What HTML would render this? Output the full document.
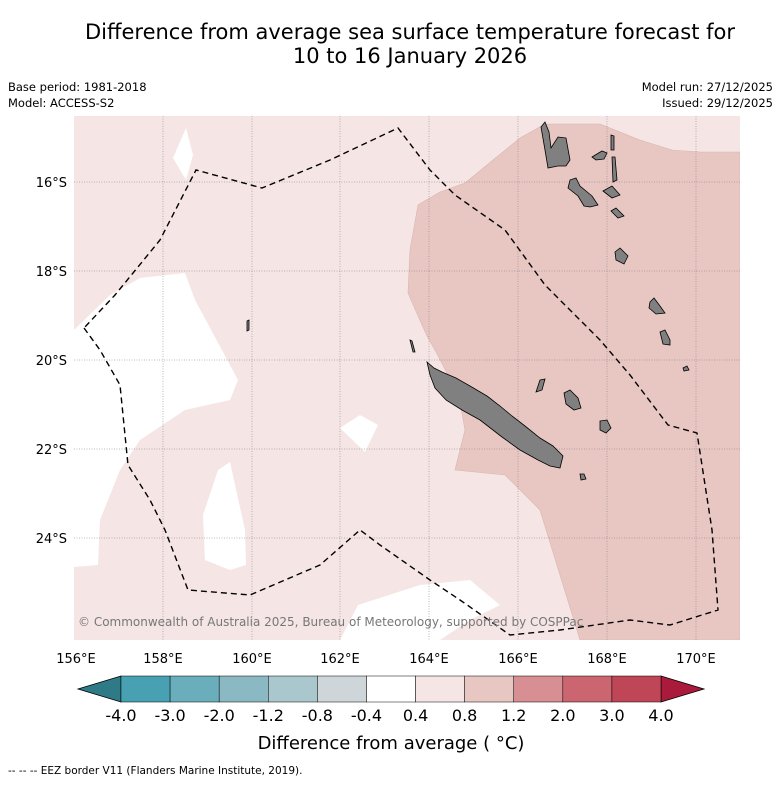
<!DOCTYPE html>
<html><head><meta charset="utf-8">
<style>
body{margin:0;background:#fff;width:781px;height:781px;overflow:hidden;font-family:"Liberation Sans","DejaVu Sans",sans-serif;}
svg text{font-family:"DejaVu Sans","Liberation Sans",sans-serif;}
</style></head>
<body>
<svg id="chart" width="781" height="781" viewBox="0 0 781 781" xmlns="http://www.w3.org/2000/svg">
  <rect width="781" height="781" fill="#fff"/>
  <text x="410" y="39" text-anchor="middle" font-size="21" fill="#000">Difference from average sea surface temperature forecast for</text>
  <text x="410" y="63" text-anchor="middle" font-size="21" fill="#000">10 to 16 January 2026</text>
  <text x="8" y="91" font-size="11.5">Base period: 1981-2018</text>
  <text x="8" y="107" font-size="11.5">Model: ACCESS-S2</text>
  <text x="773" y="91" font-size="11.5" text-anchor="end">Model run: 27/12/2025</text>
  <text x="773" y="107" font-size="11.5" text-anchor="end">Issued: 29/12/2025</text>

  <defs><clipPath id="mapclip"><rect x="74" y="116" width="666" height="524"/></clipPath></defs>
  <g clip-path="url(#mapclip)">
    <rect x="74" y="116" width="666" height="524" fill="#f5e6e5"/>
    <polygon fill="#e8c7c3" stroke="#d9b5b1" stroke-width="0.6"
      points="493,160 520,138 545,124 600,124 640,140 672,150 700,152 740,152 740,640 580,640 540,510 505,475 455,470 465,430 458,392 448,375 435,350 428,338 422,325 408,293 410,250 418,205 440,192 465,183 493,160"/>
    <g fill="#fff">
      <polygon points="74,330 110,295 140,278 185,273 195,300 238,380 230,400 185,410 140,440 120,470 100,520 98,565 74,567"/>
      <polygon points="173,158 186,128 193,155 186,180"/>
      <polygon points="203,515 218,470 230,462 245,530 246,565 230,570 205,560"/>
      <polygon points="340,428 360,415 378,425 365,452"/>
      <polygon points="340,640 358,605 420,585 470,580 500,605 470,620 440,640"/>
    </g>
    <g stroke="#777" stroke-width="0.5" stroke-dasharray="1,1.5">
      <line x1="163" y1="116" x2="163" y2="640"/><line x1="252" y1="116" x2="252" y2="640"/>
      <line x1="340" y1="116" x2="340" y2="640"/><line x1="429" y1="116" x2="429" y2="640"/>
      <line x1="518" y1="116" x2="518" y2="640"/><line x1="607" y1="116" x2="607" y2="640"/>
      <line x1="696" y1="116" x2="696" y2="640"/>
      <line x1="74" y1="182" x2="740" y2="182"/><line x1="74" y1="271" x2="740" y2="271"/>
      <line x1="74" y1="360" x2="740" y2="360"/><line x1="74" y1="449" x2="740" y2="449"/>
      <line x1="74" y1="538" x2="740" y2="538"/>
    </g>
    <g fill="#808080" stroke="#000" stroke-width="0.8">
      <polygon points="427,362 434,368 442,372 456,378 470,386 487,396 500,406 512,416 525,426 540,438 553,446 563,456 560,468 550,466 538,460 520,450 502,437 480,420 462,410 446,400 435,388 430,375"/>
      <polygon points="541,127 545,122 549,132 551,148 558,137 566,138 570,160 566,166 558,166 548,168 545,150"/>
      <polygon points="570,180 576,178 580,186 592,196 598,205 590,207 584,206 578,196 568,188"/>
      <polygon points="592,157 602,151 607,153 604,159 596,160"/>
      <polygon points="611,135 614,136 614,150 611,150"/>
      <polygon points="612,157 615,157 617,180 613,182"/>
      <polygon points="603,191 612,186 620,195 612,198"/>
      <polygon points="611,211 616,208 624,216 618,218"/>
      <polygon points="615,252 620,248 628,256 624,264 616,260"/>
      <polygon points="650,302 654,298 660,306 665,313 656,314 649,308"/>
      <polygon points="660,332 665,330 670,340 670,345 663,344"/>
      <polygon points="683,368 687,366 689,370 684,371"/>
      <polygon points="564,393 570,390 578,398 581,408 574,410 566,404"/>
      <polygon points="600,421 607,420 611,428 606,433 600,430"/>
      <polygon points="580,474 584,474 586,479 581,480"/>
      <polygon points="540,380 545,379 542,390 536,392"/>
      <polygon points="410,340 412,341 415,352 413,352"/>
      <polygon points="247,321 249,320 249,330 247,331"/>
    </g>
    <path fill="none" stroke="#000" stroke-width="1.4" stroke-dasharray="6,4"
      d="M84,328 L100,350 L120,385 L128,465 L150,500 L165,530 L188,590 L250,595 L320,565 L360,530 L380,545 L430,580 L460,600 L510,635 L560,630 L630,620 L670,625 L718,610 L712,530 L697,433 L668,425 L630,375 L600,340 L570,310 L545,285 L505,230 L455,195 L430,170 L398,128 L330,160 L262,188 L196,170 L160,240 L115,295 L84,328"/>
    <text x="78" y="626" font-size="12" fill="#777">© Commonwealth of Australia 2025, Bureau of Meteorology, supported by COSPPac</text>
  </g>
  <g font-size="13" fill="#000">
    <text x="76" y="663" text-anchor="middle">156°E</text><text x="163" y="663" text-anchor="middle">158°E</text>
    <text x="252" y="663" text-anchor="middle">160°E</text><text x="340" y="663" text-anchor="middle">162°E</text>
    <text x="429" y="663" text-anchor="middle">164°E</text><text x="518" y="663" text-anchor="middle">166°E</text>
    <text x="607" y="663" text-anchor="middle">168°E</text><text x="696" y="663" text-anchor="middle">170°E</text>
    <text x="67" y="187" text-anchor="end">16°S</text><text x="67" y="276" text-anchor="end">18°S</text>
    <text x="67" y="365" text-anchor="end">20°S</text><text x="67" y="454" text-anchor="end">22°S</text>
    <text x="67" y="543" text-anchor="end">24°S</text>
  </g>
  <g id="colorbar"></g>
  <text x="391" y="749" text-anchor="middle" font-size="18">Difference from average ( °C)</text>
  <text x="8" y="774" font-size="10.5">--  --  -- EEZ border V11 (Flanders Marine Institute, 2019).</text>
</svg>
<script>
const tickLabels = ["-4.0","-3.0","-2.0","-1.2","-0.8","-0.4","0.4","0.8","1.2","2.0","3.0","4.0"];
const binColors = ["#47a1b2","#6aaebb","#8ab8c3","#a9c7cc","#cfd6d9","#ffffff","#f5e6e5","#e8c7c3","#d78f93","#cb6670","#bf4657"];
const lowExtendColor = "#2e7b87";
const highExtendColor = "#aa1a3a";
const NS = "http://www.w3.org/2000/svg";
const cb = document.getElementById("colorbar");
const x0 = 121, x1 = 661, y0 = 676, h = 26;
const n = tickLabels.length - 1;
const xAt = i => x0 + (x1 - x0) * i / n;
function mk(tag, attrs){const e=document.createElementNS(NS,tag);for(const k in attrs)e.setAttribute(k,attrs[k]);cb.appendChild(e);return e;}
const lt = mk("polygon",{points:`${x0},${y0} ${x0},${y0+h} 78,${y0+h/2}`,fill:lowExtendColor,stroke:"#000","stroke-width":"0.8"});


const rt = mk("polygon",{points:`${x1},${y0} ${x1},${y0+h} 704,${y0+h/2}`,fill:highExtendColor,stroke:"#000","stroke-width":"0.8"});


binColors.forEach((c,i)=>{
  const r = mk("rect",{x:xAt(i),y:y0,width:xAt(i+1)-xAt(i),height:h,fill:c,stroke:"#000","stroke-width":"0.5"});
  
  
});
tickLabels.forEach((t,i)=>{
  const e = mk("text",{x:xAt(i),y:721,"text-anchor":"middle","font-size":"16"});
  e.textContent = t;
  
  
});
</script>
</body></html>
